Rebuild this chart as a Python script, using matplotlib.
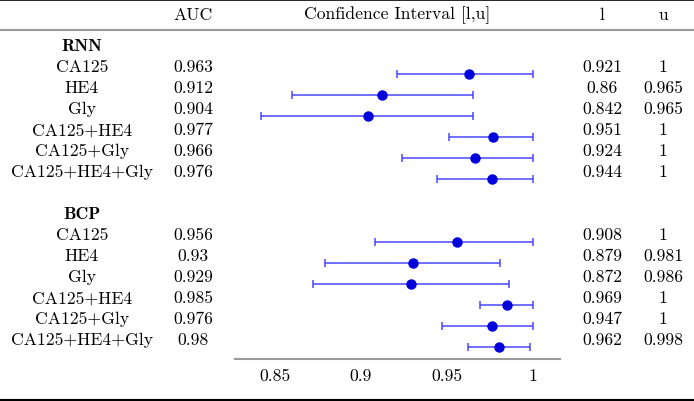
import numpy as np
import matplotlib.pyplot as plt

# table data
groups = ["RNN", "BCP"]
markers = ["CA125", "HE4", "Gly", "CA125+HE4", "CA125+Gly", "CA125+HE4+Gly"]
auc_rnn = [0.963, 0.912, 0.904, 0.977, 0.966, 0.976]
low_rnn = [0.921, 0.86, 0.842, 0.951, 0.924, 0.944]
up_rnn = [1, 0.965, 0.965, 1, 1, 1]
auc_bcp = [0.956, 0.93, 0.929, 0.985, 0.976, 0.98]
low_bcp = [0.908, 0.879, 0.872, 0.969, 0.947, 0.962]
up_bcp = [1, 0.981, 0.986, 1, 1, 0.998]
xticks = [0.85, 0.9, 0.95, 1]

W, H = 694, 402
fs = 12.7
rm = dict(family="cmr10", fontsize=fs, color="black")
bold = dict(family="cmb10", fontsize=fs, color="black")

fig = plt.figure(figsize=(W / 100, H / 100), dpi=100)
tab = fig.add_axes([0, 0, 1, 1])
tab.set_xlim(0, W)
tab.set_ylim(H, 0)
tab.axis("off")

def row_y(r):
    return 46.5 + 21 * r

# rules
tab.axhline(1, color="black", lw=1.2)
tab.axhline(31, color="#999999", lw=1.5)
tab.axhline(400.5, color="black", lw=1.5)

# header
tab.text(193, 15.5, "AUC", ha="center", va="center", **rm)
tab.text(397, 15.5, "Confidence Interval [l,u]", ha="center", va="center", **rm)
tab.text(602, 15.5, "l", ha="center", va="center", **rm)
tab.text(663, 15.5, "u", ha="center", va="center", **rm)

def fmt(v):
    return "1" if v == 1 else f"{v:g}"

# forest axes
ax = fig.add_axes([235 / W, 1 - 360 / H, 325 / W, 320 / H])
ax.set_xlim(0.85 - 40 / 1720, 1 + 27 / 1720)
ax.set_ylim((360 - 46) / 21, (40 - 46) / 21)
for s in ["top", "right", "left"]:
    ax.spines[s].set_visible(False)
ax.spines["bottom"].set_color("#999999")
ax.spines["bottom"].set_linewidth(1.5)
ax.set_yticks([])
ax.set_xticks(xticks)
ax.set_xticklabels([fmt(t) for t in xticks], **rm)
ax.tick_params(axis="x", length=0, pad=6)
ax.patch.set_alpha(0)

data = [(auc_rnn, low_rnn, up_rnn), (auc_bcp, low_bcp, up_bcp)]
for g, (name, (auc, lo, up)) in enumerate(zip(groups, data)):
    r0 = g * 8
    tab.text(82, row_y(r0), name, ha="center", va="center", **bold)
    rows = r0 + 1 + np.arange(len(markers))
    for r, m, a, l, u in zip(rows, markers, auc, lo, up):
        tab.text(82, row_y(r), m, ha="center", va="center", **rm)
        tab.text(193, row_y(r), fmt(a), ha="center", va="center", **rm)
        tab.text(602, row_y(r), fmt(l), ha="center", va="center", **rm)
        tab.text(663, row_y(r), fmt(u), ha="center", va="center", **rm)
    auc = np.array(auc)
    err = [auc - np.array(lo), np.array(up) - auc]
    ax.errorbar(auc, rows + 0.36, xerr=err, fmt="none", ecolor="#3a3aff",
                elinewidth=1.2, capsize=3.2, capthick=1.2, alpha=0.85)
    ax.plot(auc, rows + 0.36, "o", color="#0000dd", ms=6.5, zorder=3)

fig.savefig("out.png", dpi=100)
